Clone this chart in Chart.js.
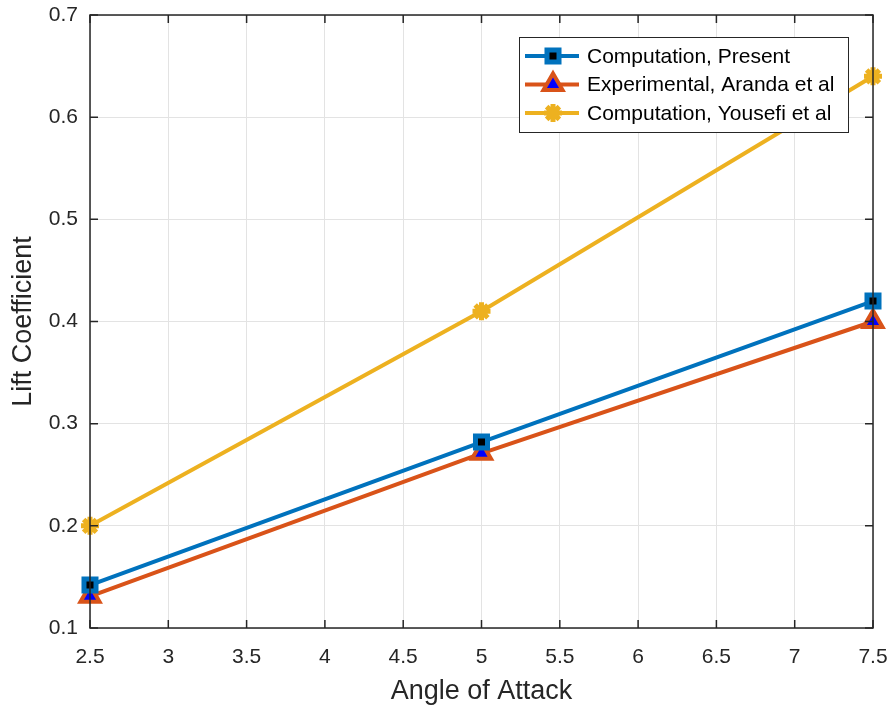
<!DOCTYPE html>
<html>
<head>
<meta charset="utf-8">
<script src="https://cdn.jsdelivr.net/npm/chart.js@4.4.1/dist/chart.umd.min.js"></script>
<style>
  html, body { margin: 0; padding: 0; background: #fff; }
  #wrap { width: 891px; height: 710px; }
</style>
</head>
<body>
<div id="wrap"><canvas id="myChart" width="891" height="710"></canvas></div>
<script>
const angles = [2.5, 5, 7.5];
const presentCl = [0.142, 0.282, 0.42];
const arandaCl = [0.131, 0.271, 0.40];
const yousefiCl = [0.20, 0.41, 0.64];
const seriesNames = ['Computation, Present', 'Experimental, Aranda et al', 'Computation, Yousefi et al'];

const FONT = "'Liberation Sans', Arial, Helvetica, sans-serif";

function points(ys) {
    return angles.map((x, i) => ({ x: x, y: ys[i] }));
}

// box around the axes + inward ticks, like matlab
const frame = {
    id: 'frame',
    afterDatasetsDraw(chart) {
        const { ctx, chartArea: a, scales } = chart;
        ctx.save();
        ctx.strokeStyle = '#262626';
        ctx.lineWidth = 1.5;
        ctx.strokeRect(a.left, a.top, a.right - a.left, a.bottom - a.top);
        ctx.beginPath();
        scales.x.ticks.forEach(t => {
            const px = scales.x.getPixelForValue(t.value);
            ctx.moveTo(px, a.bottom); ctx.lineTo(px, a.bottom - 8);
            ctx.moveTo(px, a.top); ctx.lineTo(px, a.top + 8);
        });
        scales.y.ticks.forEach(t => {
            const py = scales.y.getPixelForValue(t.value);
            ctx.moveTo(a.left, py); ctx.lineTo(a.left + 8, py);
            ctx.moveTo(a.right, py); ctx.lineTo(a.right - 8, py);
        });
        ctx.stroke();
        ctx.restore();
    },
    afterDraw(chart) {
        // legend box in the top right corner
        const { ctx } = chart;
        const bx = 519, by = 37, bw = 329, bh = 95;
        ctx.save();
        ctx.fillStyle = '#fff';
        ctx.fillRect(bx, by, bw, bh);
        ctx.strokeStyle = '#262626';
        ctx.lineWidth = 1;
        ctx.strokeRect(bx + 0.5, by + 0.5, bw, bh);
        chart.data.datasets.forEach((ds, i) => {
            const y = by + 19 + i * 28.5;
            ctx.strokeStyle = ds.borderColor;
            ctx.lineWidth = ds.borderWidth;
            ctx.beginPath();
            ctx.moveTo(bx + 6, y); ctx.lineTo(bx + 60, y);
            ctx.stroke();
            ctx.fillStyle = ds.pointBackgroundColor;
            ctx.strokeStyle = ds.pointBorderColor;
            ctx.lineWidth = ds.pointBorderWidth;
            Chart.helpers.drawPoint(ctx, {
                pointStyle: ds.pointStyle,
                radius: ds.pointRadius,
                borderWidth: ds.pointBorderWidth,
                rotation: 0
            }, bx + 34, y);
            ctx.fillStyle = '#000';
            ctx.font = '21px ' + FONT;
            ctx.textBaseline = 'middle';
            ctx.fillText(ds.label, bx + 68, y + 1);
        });
        ctx.restore();
    }
};

function noPad(scale) {
    scale.paddingTop = 0;
    scale.paddingBottom = 0;
    scale.paddingLeft = 0;
    scale.paddingRight = 0;
}

const data = {
    datasets: [
        {
            label: seriesNames[0],
            data: points(presentCl),
            borderColor: '#0072BD',
            borderWidth: 4,
            pointStyle: 'rect',
            pointRadius: 8.5,
            pointBorderWidth: 5,
            pointBackgroundColor: '#000',
            pointBorderColor: '#0072BD',
            showLine: true
        },
        {
            label: seriesNames[1],
            data: points(arandaCl),
            borderColor: '#D95319',
            borderWidth: 4,
            pointStyle: 'triangle',
            pointRadius: 11,
            pointBorderWidth: 4,
            pointBackgroundColor: '#0000FF',
            pointBorderColor: '#D95319',
            showLine: true
        },
        {
            label: seriesNames[2],
            data: points(yousefiCl),
            borderColor: '#EDB120',
            borderWidth: 4,
            pointStyle: 'star',
            pointRadius: 9,
            pointBorderWidth: 5,
            pointBackgroundColor: '#EDB120',
            pointBorderColor: '#EDB120',
            showLine: true
        }
    ]
};

const config = {
    type: 'scatter',
    data: data,
    plugins: [frame],
    options: {
        responsive: false,
        animation: false,
        clip: false,
        layout: {
            padding: { left: 0, right: 18, top: 14, bottom: 0 }
        },
        plugins: {
            legend: { display: false },
            tooltip: { enabled: false }
        },
        scales: {
            x: {
                type: 'linear',
                min: 2.5,
                max: 7.5,
                ticks: {
                    stepSize: 0.5,
                    color: '#262626',
                    font: { family: FONT, size: 21 },
                    padding: 17,
                    callback: v => String(v)
                },
                grid: { color: '#e3e3e3', drawTicks: false },
                border: { display: false },
                title: {
                    display: true,
                    text: 'Angle of Attack',
                    color: '#262626',
                    font: { family: FONT, size: 27 },
                    padding: { top: 2, bottom: 2 }
                },
                afterFit(scale) { scale.height = 82; noPad(scale); }
            },
            y: {
                min: 0.1,
                max: 0.7,
                ticks: {
                    stepSize: 0.1,
                    color: '#262626',
                    font: { family: FONT, size: 21 },
                    padding: 12,
                    callback: v => v.toFixed(1)
                },
                grid: { color: '#e3e3e3', drawTicks: false },
                border: { display: false },
                title: {
                    display: true,
                    text: 'Lift Coefficient',
                    color: '#262626',
                    font: { family: FONT, size: 27 },
                    padding: { top: 7, bottom: 0 }
                },
                afterFit(scale) { scale.width = 90; noPad(scale); }
            }
        }
    }
};

new Chart(document.getElementById('myChart'), config);
</script>
</body>
</html>
